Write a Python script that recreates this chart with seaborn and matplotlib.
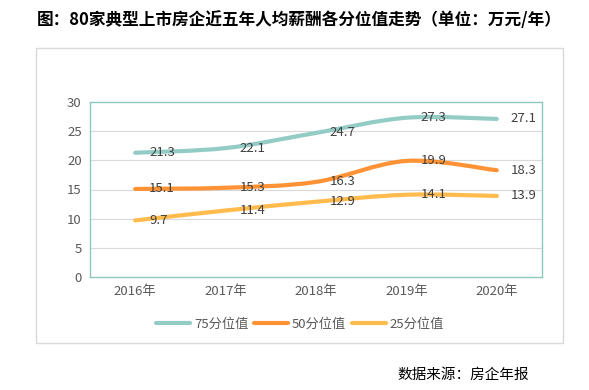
import numpy as np
import pandas as pd
import seaborn as sns
from matplotlib import pyplot as plt
from matplotlib.path import Path
from matplotlib.patches import PathPatch, Rectangle

years = ["2016年", "2017年", "2018年", "2019年", "2020年"]
p75 = [21.3, 22.1, 24.7, 27.3, 27.1]
p50 = [15.1, 15.3, 16.3, 19.9, 18.3]
p25 = [9.7, 11.4, 12.9, 14.1, 13.9]
series_names = ["75分位值", "50分位值", "25分位值"]
colors = ["#93CCC5", "#FF9234", "#FFBB4D"]

sns.set_theme(style="white")
plt.rcParams['font.family'] = ['Noto Sans CJK SC', 'DejaVu Sans']

df = pd.DataFrame({
    "year": years * 3,
    "value": p75 + p50 + p25,
    "series": [series_names[0]] * 5 + [series_names[1]] * 5 + [series_names[2]] * 5,
})
df["xi"] = df["year"].map({y: i for i, y in enumerate(years)})

fig = plt.figure(figsize=(5.89, 3.90), dpi=100)
ax = fig.add_axes([90 / 589, 1 - 277 / 390, 452 / 589, 175 / 390])

# seaborn draws the lines (kept for the legend), the visible curves are smoothed below
sns.lineplot(data=df, x="xi", y="value", hue="series", palette=colors,
             hue_order=series_names, linewidth=3, ax=ax, legend=True)
for ln in ax.lines:
    ln.set_data([], [])


def smooth_path(xs, ys):
    pts = np.column_stack([xs, ys]).astype(float)
    n = len(pts)
    verts = [pts[0]]
    codes = [Path.MOVETO]
    for i in range(n - 1):
        p0 = pts[i - 1] if i > 0 else pts[i]
        p1 = pts[i]
        p2 = pts[i + 1]
        p3 = pts[i + 2] if i + 2 < n else pts[i + 1]
        c1 = p1 + (p2 - p0) / 6
        c2 = p2 - (p3 - p1) / 6
        verts += [c1, c2, p2]
        codes += [Path.CURVE4] * 3
    return Path(verts, codes)


xs = np.arange(len(years))
for vals, c in zip([p75, p50, p25], colors):
    ax.add_patch(PathPatch(smooth_path(xs, vals), facecolor="none", edgecolor=c,
                           lw=3, capstyle="round", zorder=3))
    for x, v in zip(xs, vals):
        ax.annotate(f"{v:.1f}", (x, v), xytext=(10, 0), textcoords="offset points",
                    ha="left", va="center", fontsize=9.5, color="#404040", zorder=4)

ax.set_xlim(-0.5, 4.5)
ax.set_ylim(0, 30)
ax.set_yticks(range(0, 31, 5))
ax.set_xticks(xs)
ax.set_xticklabels(years)
ax.set_xlabel("")
ax.set_ylabel("")
ax.tick_params(axis="both", length=0, labelsize=9.5, labelcolor="#595959", pad=6)
for y in range(5, 30, 5):
    ax.axhline(y, color="#D9D9D9", lw=0.8, zorder=1)
for s in ax.spines.values():
    s.set_visible(True)
    s.set_color("#8FC7C1")
    s.set_linewidth(1.0)

leg = ax.get_legend()
handles = leg.legend_handles
leg.remove()
for h, c in zip(handles, colors):
    h.set_color(c)
    h.set_linewidth(3)
fig.legend(handles, series_names, loc="center", bbox_to_anchor=(300 / 589, 1 - 324 / 390),
           ncol=3, frameon=False, fontsize=9.5, handlelength=2.6, columnspacing=0.4,
           handletextpad=0.3, labelcolor="#595959")

fig.patches.append(Rectangle((36 / 589, 1 - 343 / 390), 527 / 589, 295 / 390,
                             transform=fig.transFigure, fill=False,
                             edgecolor="#D9D9D9", lw=1))

fig.text(0.508, 1 - 20 / 390, "图：80家典型上市房企近五年人均薪酬各分位值走势（单位：万元/年）",
         ha="center", va="center", fontsize=12, fontweight="bold", color="black")
fig.text(397 / 589, 1 - 375 / 390, "数据来源：房企年报", ha="left", va="center",
         fontsize=10.5, color="black")

fig.savefig("out.png", dpi=100)
